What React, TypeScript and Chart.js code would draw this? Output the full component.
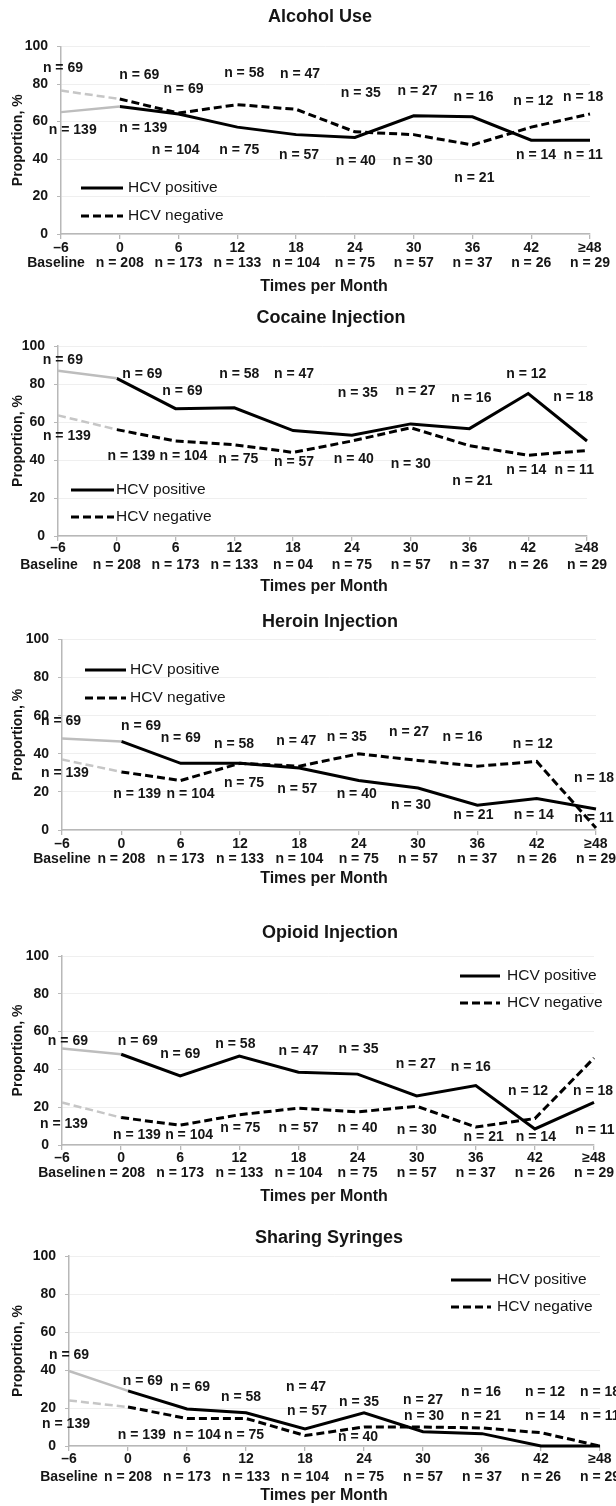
import React, { useEffect, useRef } from "react";
import { Chart, registerables } from "chart.js";

Chart.register(...registerables);

// ---------- data ----------
const xTickLabels = ["\u20136", "0", "6", "12", "18", "24", "30", "36", "42", "\u226548"];
const months = [-6, 0, 6, 12, 18, 24, 30, 36, 42, 48];
const yTicks = [0, 20, 40, 60, 80, 100];

const positiveN = ["n = 69", "n = 69", "n = 69", "n = 58", "n = 47", "n = 35", "n = 27", "n = 16", "n = 12", "n = 18"];
const negativeN = ["n = 139", "n = 139", "n = 104", "n = 75", "n = 57", "n = 40", "n = 30", "n = 21", "n = 14", "n = 11"];

const totalCounts = ["Baseline", "n = 208", "n = 173", "n = 133", "n = 104", "n = 75", "n = 57", "n = 37", "n = 26", "n = 29"];
const cocaineCounts = ["Baseline", "n = 208", "n = 173", "n = 133", "n = 04", "n = 75", "n = 57", "n = 37", "n = 26", "n = 29"];

const alcoholPositive = [65, 68, 64, 57, 53, 51.5, 63, 62.5, 50, 50];
const alcoholNegative = [76.5, 72, 64.5, 69, 66.5, 54.5, 53, 47.5, 57, 64];

const cocainePositive = [87, 83, 67, 67.5, 55.5, 53, 59, 56.5, 75, 50];
const cocaineNegative = [63.5, 56, 50, 48, 44, 50, 57, 47.5, 42.5, 45];

const heroinPositive = [48, 46.5, 35, 35, 32.5, 26, 22, 13, 16.5, 11];
const heroinNegative = [37, 30.5, 26, 35, 33.5, 40, 36.5, 33.5, 36, 1];

const opioidPositive = [51, 48, 36.5, 47, 38.5, 37.5, 26, 31.5, 8.5, 22.5];
const opioidNegative = [22.5, 14.5, 10.5, 16, 19.5, 17.5, 20.5, 9.5, 14, 46];

const syringePositive = [39.5, 29, 19.5, 17.5, 9, 17.5, 7.5, 6.5, 0, 0];
const syringeNegative = [24, 20.5, 14.5, 14.5, 5.5, 10, 10, 9.5, 7, 0];

// ---------- annotation anchors (month, %) ----------
const alcoholPosLabelAt = [[-5.8, 88.5], [2, 84.6], [6.5, 77.5], [12.7, 85.8], [18.4, 85], [24.6, 74.9], [30.4, 76.1], [36.1, 73.1], [42.2, 70.8], [47.3, 73.1]];
const alcoholNegLabelAt = [[-4.8, 55.4], [2.4, 56.6], [5.7, 44.8], [12.2, 44.8], [18.3, 42.1], [24.1, 39.1], [29.9, 39.1], [36.2, 29.7], [42.5, 42.1], [47.3, 42.1]];
const cocainePosLabelAt = [[-5.5, 92.3], [2.6, 85.1], [6.7, 76.3], [12.5, 85.1], [18.1, 85.1], [24.6, 75.1], [30.5, 76.3], [36.2, 72.5], [41.8, 85.1], [46.6, 73.3]];
const cocaineNegLabelAt = [[-5.1, 52.5], [1.5, 41.8], [6.8, 41.8], [12.4, 40.2], [18.1, 38.8], [24.2, 40.2], [30, 37.9], [36.3, 29.1], [41.8, 34.7], [46.7, 34.7]];
const heroinPosLabelAt = [[-6.1, 57.2], [2, 54.5], [6, 48.4], [11.4, 45.1], [17.7, 46.9], [22.8, 49], [29.1, 51.6], [34.5, 49], [41.6, 45.1], [47.8, 27.1]];
const heroinNegLabelAt = [[-5.7, 30.1], [1.6, 18.9], [7, 18.9], [12.4, 24.5], [17.8, 21.5], [23.8, 18.7], [29.3, 13.1], [35.6, 7.9], [41.7, 7.9], [47.8, 6.1]];
const opioidPosLabelAt = [[-5.4, 55.2], [1.7, 55.2], [6, 48], [11.6, 53.3], [18, 49.9], [24.1, 50.6], [29.9, 42.7], [35.5, 41.4], [41.3, 28.7], [47.9, 28.7]];
const opioidNegLabelAt = [[-5.8, 11.1], [1.6, 5.3], [6.9, 5.3], [12.1, 8.8], [18, 8.8], [24, 8.8], [30, 7.6], [36.8, 4.4], [42.1, 4.4], [48.1, 7.6]];
const syringePosLabelAt = [[-6, 47.9], [1.5, 33.9], [6.3, 31.2], [11.5, 25.9], [18.1, 31.2], [23.5, 23.3], [30, 24.2], [35.9, 28.6], [42.4, 28.6], [48, 28.6]];
const syringeNegLabelAt = [[-6.3, 11.6], [1.4, 5.8], [7, 5.8], [11.8, 5.8], [18.2, 18.6], [23.4, 4.6], [30.1, 15.8], [35.9, 15.8], [42.4, 15.8], [48, 15.8]];

// ---------- styling / layout ----------
const FONT = "Arial, 'Liberation Sans', Helvetica, sans-serif";
const AXIS = "#b8b8b8";
const GRID = "#efefef";
const TEXT = "#151515";
const GRAY_SOLID = "#bdbdbd";
const GRAY_DASH = "#c6c6c6";
const DASH = [8, 4];
const W = 616;

type Layout = {
  top: number; height: number;
  area: { l: number; r: number; t: number; b: number };
  titleX: number; titleY: number; tickY: number; countY: number; axisTitleY: number;
  baseDx: number;
  legend: { x1: number; x2: number; y1: number; y2: number; tx: number };
};

const panels: { title: string; pos: number[]; neg: number[]; counts: string[]; posAt: number[][]; negAt: number[][]; layout: Layout }[] = [
  {
    title: "Alcohol Use", pos: alcoholPositive, neg: alcoholNegative, counts: totalCounts,
    posAt: alcoholPosLabelAt, negAt: alcoholNegLabelAt,
    layout: { top: 0, height: 300, area: { l: 61, r: 590, t: 46.5, b: 234 }, titleX: 320, titleY: 17, tickY: 248.5, countY: 263.5, axisTitleY: 287, baseDx: -5, legend: { x1: 81, x2: 123, y1: 188, y2: 216, tx: 128 } },
  },
  {
    title: "Cocaine Injection", pos: cocainePositive, neg: cocaineNegative, counts: cocaineCounts,
    posAt: cocainePosLabelAt, negAt: cocaineNegLabelAt,
    layout: { top: 300, height: 300, area: { l: 58, r: 587, t: 46, b: 236 }, titleX: 331, titleY: 18.5, tickY: 248.5, countY: 265, axisTitleY: 287, baseDx: -9, legend: { x1: 71, x2: 114, y1: 190, y2: 217, tx: 116 } },
  },
  {
    title: "Heroin Injection", pos: heroinPositive, neg: heroinNegative, counts: totalCounts,
    posAt: heroinPosLabelAt, negAt: heroinNegLabelAt,
    layout: { top: 600, height: 300, area: { l: 62, r: 596, t: 39.5, b: 230 }, titleX: 330, titleY: 22, tickY: 244.5, countY: 259.5, axisTitleY: 278.5, baseDx: 0, legend: { x1: 85, x2: 126, y1: 70, y2: 98, tx: 130 } },
  },
  {
    title: "Opioid Injection", pos: opioidPositive, neg: opioidNegative, counts: totalCounts,
    posAt: opioidPosLabelAt, negAt: opioidNegLabelAt,
    layout: { top: 900, height: 310, area: { l: 62, r: 594, t: 56, b: 245 }, titleX: 330, titleY: 33.5, tickY: 258.5, countY: 273.5, axisTitleY: 296.7, baseDx: 5, legend: { x1: 460, x2: 500, y1: 76, y2: 103, tx: 507 } },
  },
  {
    title: "Sharing Syringes", pos: syringePositive, neg: syringeNegative, counts: totalCounts,
    posAt: syringePosLabelAt, negAt: syringeNegLabelAt,
    layout: { top: 1200, height: 306, area: { l: 69, r: 600, t: 56, b: 246 }, titleX: 329, titleY: 38.3, tickY: 259.5, countY: 276.7, axisTitleY: 296, baseDx: 0, legend: { x1: 451, x2: 491, y1: 80, y2: 107, tx: 497 } },
  },
];

function text(ctx: CanvasRenderingContext2D, s: string, x: number, y: number, font: string, align: CanvasTextAlign = "center") {
  ctx.font = font;
  ctx.textAlign = align;
  ctx.textBaseline = "middle";
  ctx.fillStyle = TEXT;
  ctx.fillText(s, x, y);
}

function makeDecor(p: (typeof panels)[number]) {
  const L = p.layout;
  return {
    id: "decor",
    afterDatasetsDraw(chart: any) {
      const ctx: CanvasRenderingContext2D = chart.ctx;
      const xs = chart.scales.x;
      const ys = chart.scales.y;
      const ca = chart.chartArea;
      const monthToIndex = (m: number) => (m - months[0]) / (months[1] - months[0]);
      ctx.save();
      text(ctx, p.title, L.titleX, L.titleY, `bold 18px ${FONT}`);
      ctx.save();
      ctx.translate(18, (ca.top + ca.bottom) / 2);
      ctx.rotate(-Math.PI / 2);
      text(ctx, "Proportion, %", 0, 0, `bold 14px ${FONT}`);
      ctx.restore();
      xTickLabels.forEach((lab, i) => {
        const px = xs.getPixelForValue(i);
        text(ctx, lab, px, L.tickY, `bold 14px ${FONT}`);
        text(ctx, p.counts[i], px + (i === 0 ? L.baseDx : 0), L.countY, `bold 14px ${FONT}`);
      });
      text(ctx, "Times per Month", 324, L.axisTitleY, `bold 16px ${FONT}`);
      p.posAt.forEach(([m, v], i) => {
        text(ctx, positiveN[i], xs.getPixelForValue(monthToIndex(m)), ys.getPixelForValue(v), `bold 14px ${FONT}`);
      });
      p.negAt.forEach(([m, v], i) => {
        text(ctx, negativeN[i], xs.getPixelForValue(monthToIndex(m)), ys.getPixelForValue(v), `bold 14px ${FONT}`);
      });
      const lg = L.legend;
      ctx.strokeStyle = "#000";
      ctx.lineWidth = 3;
      ctx.setLineDash([]);
      ctx.beginPath();
      ctx.moveTo(lg.x1, lg.y1);
      ctx.lineTo(lg.x2, lg.y1);
      ctx.stroke();
      ctx.setLineDash([8, 4]);
      ctx.beginPath();
      ctx.moveTo(lg.x1, lg.y2);
      ctx.lineTo(lg.x2, lg.y2);
      ctx.stroke();
      ctx.setLineDash([]);
      text(ctx, "HCV positive", lg.tx, lg.y1, `15.5px ${FONT}`, "left");
      text(ctx, "HCV negative", lg.tx, lg.y2, `15.5px ${FONT}`, "left");
      ctx.restore();
    },
  };
}

function Panel({ p }: { p: (typeof panels)[number] }) {
  const ref = useRef<HTMLCanvasElement | null>(null);
  useEffect(() => {
    if (!ref.current) return;
    const L = p.layout;
    const gray = (arr: number[]) => arr.map((v, i) => (i <= 1 ? v : null));
    const black = (arr: number[]) => arr.map((v, i) => (i >= 1 ? v : null));
    const common = { pointRadius: 0, fill: false, tension: 0, clip: false as any, spanGaps: false };
    const chart = new Chart(ref.current, {
      type: "line",
      data: {
        labels: xTickLabels,
        datasets: [
          { ...common, label: "HCV positive (baseline)", data: gray(p.pos), borderColor: GRAY_SOLID, borderWidth: 2.5 },
          { ...common, label: "HCV negative (baseline)", data: gray(p.neg), borderColor: GRAY_DASH, borderWidth: 2.5, borderDash: DASH },
          { ...common, label: "HCV negative", data: black(p.neg), borderColor: "#000", borderWidth: 3, borderDash: DASH },
          { ...common, label: "HCV positive", data: black(p.pos), borderColor: "#000", borderWidth: 3 },
        ],
      },
      options: {
        responsive: false,
        animation: false,
        events: [],
        layout: { padding: { top: L.area.t, left: 0, right: W - L.area.r, bottom: 0 } },
        plugins: { legend: { display: false }, tooltip: { enabled: false }, title: { display: false } },
        scales: {
          x: {
            type: "category",
            offset: false,
            grid: { display: true, drawOnChartArea: false, drawTicks: true, tickLength: 5, tickColor: AXIS, lineWidth: 1.3 },
            border: { display: true, color: AXIS, width: 1.5 },
            ticks: { display: false, autoSkip: false },
            afterFit: (s: any) => { s.height = L.height - L.area.b; },
          },
          y: {
            min: 0,
            max: 100,
            afterBuildTicks: (s: any) => { s.ticks = yTicks.map((v) => ({ value: v })); },
            grid: { color: GRID, tickColor: AXIS, tickLength: 4, drawTicks: true },
            border: { display: true, color: AXIS, width: 1.5 },
            ticks: { padding: 9, color: TEXT, font: { family: FONT, size: 14, weight: "bold" } },
            afterFit: (s: any) => { s.width = L.area.l; },
          },
        },
      } as any,
      plugins: [makeDecor(p) as any],
    });
    return () => chart.destroy();
  }, [p]);
  const L = p.layout;
  return (
    <canvas
      ref={ref}
      width={W}
      height={L.height}
      style={{ position: "absolute", left: 0, top: L.top, width: W, height: L.height }}
    />
  );
}

export default function App() {
  return (
    <div style={{ position: "absolute", left: 0, top: 0, width: W, height: 1506, background: "#fff", overflow: "hidden" }}>
      {panels.map((p) => (
        <Panel key={p.title} p={p} />
      ))}
    </div>
  );
}
